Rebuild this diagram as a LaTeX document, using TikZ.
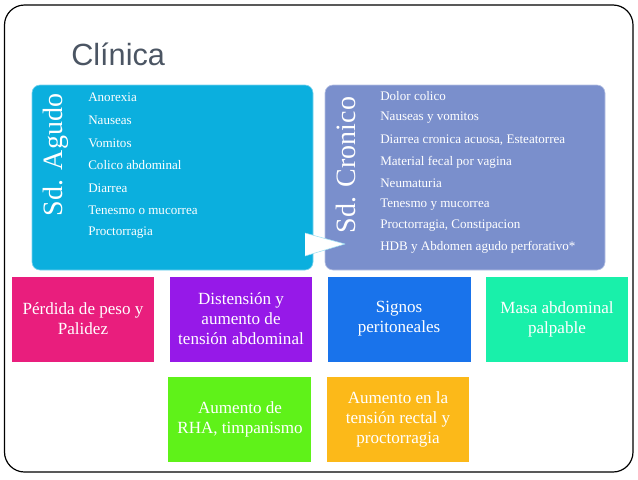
\documentclass[tikz,border=0pt]{standalone}
\usepackage{fontspec}
\setmainfont{Liberation Serif}
\newfontfamily\titlefont{Liberation Sans}
\newfontfamily\boxfont{Liberation Serif}
\definecolor{agudo}{RGB}{11,175,222}
\definecolor{cronico}{RGB}{122,143,204}
\definecolor{cpink}{RGB}{233,30,125}
\definecolor{cpurple}{RGB}{150,25,232}
\definecolor{cblue}{RGB}{25,115,235}
\definecolor{cteal}{RGB}{25,240,170}
\definecolor{cgreen}{RGB}{95,242,25}
\definecolor{corange}{RGB}{252,185,25}
\definecolor{titlegray}{RGB}{75,85,99}

\begin{document}
\begin{tikzpicture}[x=0.75pt,y=-0.75pt,line join=round,
  item/.style={anchor=west,inner sep=0pt,text=white,font=\boxfont\fontsize{9.8}{11}\selectfont},
  side/.style={rotate=90,inner sep=0pt,text=white,font=\boxfont\fontsize{21}{24}\selectfont},
  sign/.style={text=white,align=center,inner sep=0pt,font=\boxfont\fontsize{12.8}{15}\selectfont}]
  \useasboundingbox (0,0) rectangle (638,479);
  \draw[line width=0.9pt,rounded corners=15pt] (4.5,5) rectangle (633,472);
  \node[anchor=base west,inner sep=0pt,text=titlegray,font=\titlefont\fontsize{23}{26}\selectfont] (title) at (71,65) {Clínica};
  % Sd. Agudo
  \fill[agudo,rounded corners=6pt] (32,85) rectangle (313,270);
  \draw[agudo!55!white,line width=0.5pt,rounded corners=6pt] (32,85) rectangle (313,270);
  \node[side] (agudo) at (56,155) {Sd. Agudo};
  \node[item] (a1) at (88,97) {Anorexia};
  \node[item] (a2) at (88,120) {Nauseas};
  \node[item] (a3) at (88,143) {Vomitos};
  \node[item] (a4) at (88,165) {Colico abdominal};
  \node[item] (a5) at (88,188) {Diarrea};
  \node[item] (a6) at (88,210) {Tenesmo o mucorrea};
  \node[item] (a7) at (88,233) {Proctorragia};
  % Sd. Cronico
  \fill[cronico,rounded corners=6pt] (325,85) rectangle (605,270);
  \draw[cronico!55!white,line width=0.5pt,rounded corners=6pt] (325,85) rectangle (605,270);
  \node[side] (cronico) at (346,165) {Sd. Cronico};
  \node[item] (c1) at (380,96) {Dolor colico};
  \node[item] (c2) at (380,118) {Nauseas y vomitos};
  \node[item] (c3) at (380,140) {Diarrea cronica acuosa, Esteatorrea};
  \node[item] (c4) at (380,162) {Material fecal por vagina};
  \node[item] (c5) at (380,183) {Neumaturia};
  \node[item] (c6) at (380,205) {Tenesmo y mucorrea};
  \node[item] (c7) at (380,226) {Proctorragia, Constipacion};
  \node[item] (c8) at (380,247) {HDB y Abdomen agudo perforativo*};
  \fill[white] (305,233) -- (345,244) -- (305,256) -- cycle;
  \draw[agudo!40!white,line width=0.4pt] (305,256) -- (345,244) -- (305,233);
  % signos
  \fill[cpink] (12,277) rectangle (154,362);
  \node[sign] (s1) at (83,319) {Pérdida de peso y\\Palidez};
  \fill[cpurple] (170,277) rectangle (312,362);
  \node[sign] (s2) at (241,319) {Distensión y\\aumento de\\tensión abdominal};
  \fill[cblue] (328,277) rectangle (471,362);
  \node[sign] (s3) at (399,319) {Signos\\peritoneales};
  \fill[cteal] (486,277) rectangle (628,362);
  \node[sign] (s4) at (557,319) {Masa abdominal\\palpable};
  \fill[cgreen] (168,377) rectangle (311,462);
  \node[sign] (s5) at (240,419) {Aumento de\\RHA, timpanismo};
  \fill[corange] (327,377) rectangle (469,462);
  \node[sign] (s6) at (398,419) {Aumento en la\\tensión rectal y\\proctorragia};
\end{tikzpicture}
\end{document}
